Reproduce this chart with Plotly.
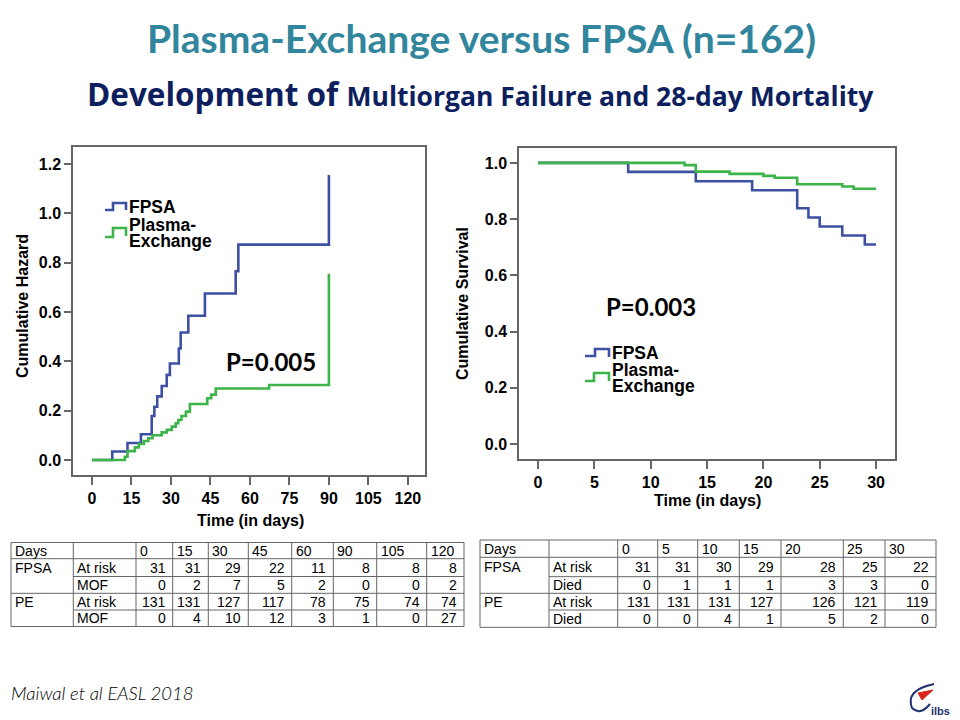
import plotly.graph_objects as go

# Cumulative hazard of multiorgan failure (left panel)
fpsa_mof_days = [0, 7.7, 13.5, 18.6, 22.7, 23.7, 24.8, 26.5, 28.4, 29.6, 33.0, 33.7, 36.6, 42.9, 54.6, 55.6, 90]
fpsa_hazard = [0, 0.034, 0.069, 0.104, 0.178, 0.216, 0.258, 0.300, 0.345, 0.391, 0.452, 0.517, 0.585, 0.675, 0.765, 0.873, 1.155]
pe_mof_days = [0, 12.5, 13.5, 16.3, 17.8, 19.7, 21.4, 23.0, 26.5, 28.4, 30.3, 31.8, 32.8, 34.0, 35.7, 37.2, 43.8, 45.3, 47.0, 67.3, 90]
pe_hazard = [0, 0.013, 0.036, 0.051, 0.065, 0.077, 0.088, 0.100, 0.112, 0.122, 0.135, 0.149, 0.162, 0.178, 0.196, 0.227, 0.250, 0.265, 0.290, 0.304, 0.755]

# 28-day survival (right panel)
fpsa_surv_days = [0, 8, 14, 19, 23, 24, 25, 27, 29, 30]
fpsa_survival = [1, 0.968, 0.935, 0.903, 0.839, 0.806, 0.774, 0.742, 0.710, 0.710]
pe_surv_days = [0, 13, 14, 17, 20, 21, 23, 27, 28, 30]
pe_survival = [1, 0.992, 0.969, 0.961, 0.954, 0.947, 0.924, 0.916, 0.908, 0.908]

# Numbers at risk tables
mof_table_days = ["0", "15", "30", "45", "60", "90", "105", "120"]
mof_fpsa_risk = [31, 31, 29, 22, 11, 8, 8, 8]
mof_fpsa_events = [0, 2, 7, 5, 2, 0, 0, 2]
mof_pe_risk = [131, 131, 127, 117, 78, 75, 74, 74]
mof_pe_events = [0, 4, 10, 12, 3, 1, 0, 27]

death_table_days = ["0", "5", "10", "15", "20", "25", "30"]
death_fpsa_risk = [31, 31, 30, 29, 28, 25, 22]
death_fpsa_events = [0, 1, 1, 1, 3, 3, 0]
death_pe_risk = [131, 131, 131, 127, 126, 121, 119]
death_pe_events = [0, 0, 4, 1, 5, 2, 0]

BLUE = "#3D50A2"
GREEN = "#3CB44A"
GRID = "#666666"
W, H = 960, 720
OFF = 8  # page body margin


def px(x):
    return (x - OFF) / W


def py(y):
    return 1 - (y - OFF) / H


fig = go.Figure()

fig.add_trace(go.Scatter(x=fpsa_mof_days, y=fpsa_hazard, mode="lines", line_shape="hv",
                         line=dict(color=BLUE, width=2.6), xaxis="x", yaxis="y"))
fig.add_trace(go.Scatter(x=pe_mof_days, y=pe_hazard, mode="lines", line_shape="hv",
                         line=dict(color=GREEN, width=2.6), xaxis="x", yaxis="y"))
fig.add_trace(go.Scatter(x=fpsa_surv_days, y=fpsa_survival, mode="lines", line_shape="hv",
                         line=dict(color=BLUE, width=2.6), xaxis="x2", yaxis="y2"))
fig.add_trace(go.Scatter(x=pe_surv_days, y=pe_survival, mode="lines", line_shape="hv",
                         line=dict(color=GREEN, width=2.6), xaxis="x2", yaxis="y2"))

tickfont = dict(family="Arial, Liberation Sans", size=16, color="black", weight="bold")
frame = dict(showline=True, mirror=True, linecolor=GRID, linewidth=1.5, ticks="outside",
             ticklen=8, tickcolor=GRID, tickwidth=1.5, showgrid=False, zeroline=False, tickfont=tickfont)

fig.update_layout(
    width=W, height=H, margin=dict(l=0, r=0, t=0, b=0),
    paper_bgcolor="white", plot_bgcolor="white", showlegend=False,
    xaxis=dict(domain=[px(73), px(425)], range=[-7.2, 126.5], tickvals=[0, 15, 30, 45, 60, 75, 90, 105, 120],
               anchor="y", **frame),
    yaxis=dict(domain=[py(475), py(147)], range=[-0.061, 1.269], tickvals=[0, 0.2, 0.4, 0.6, 0.8, 1.0, 1.2],
               tickformat=".1f", anchor="x", **frame),
    xaxis2=dict(domain=[px(519), px(895)], range=[-1.69, 31.68], tickvals=[0, 5, 10, 15, 20, 25, 30],
                anchor="y2", **frame),
    yaxis2=dict(domain=[py(459), py(148)], range=[-0.053, 1.053], tickvals=[0, 0.2, 0.4, 0.6, 0.8, 1.0],
                tickformat=".1f", anchor="x2", **frame),
)
fig.update_yaxes(ticklen=7)

annotations = []
shapes = []


def note(text, x, y, size, color="black", family="Arial, Liberation Sans", weight="bold", xanchor="center",
         angle=0, italic=False):
    annotations.append(dict(text=text, x=px(x), y=py(y), xref="paper", yref="paper", showarrow=False,
                            xanchor=xanchor, yanchor="middle", textangle=angle,
                            font=dict(family=family, size=size, color=color, weight=weight,
                                      style="italic" if italic else "normal")))


def hline(x0, x1, y, color=GRID, width=1):
    shapes.append(dict(type="line", xref="paper", yref="paper", x0=px(x0), x1=px(x1), y0=py(y), y1=py(y),
                       line=dict(color=color, width=width)))


def vline(x, y0, y1, color=GRID, width=1):
    shapes.append(dict(type="line", xref="paper", yref="paper", x0=px(x), x1=px(x), y0=py(y0), y1=py(y1),
                       line=dict(color=color, width=width)))


def at_risk_table(days, label, f_risk, f_ev, p_risk, p_ev, xs, ys):
    rows = [["FPSA", "At risk"] + f_risk, ["", label] + f_ev, ["PE", "At risk"] + p_risk, ["", label] + p_ev]
    for c, d in enumerate(["Days", ""] + days):
        note(d, xs[c] + 2, (ys[0] + ys[1]) / 2, 14, weight="normal", xanchor="left")
    for r, row in enumerate(rows, start=1):
        yc = (ys[r] + ys[r + 1]) / 2
        for c, v in enumerate(row):
            if c < 2:
                note(str(v), xs[c] + 2, yc, 14, weight="normal", xanchor="left")
            else:
                note(str(v), xs[c + 1] - 5, yc, 14, weight="normal", xanchor="right")
    for i, y in enumerate(ys):
        hline(xs[1] if i in (2, 4) else xs[0], xs[-1], y)
    for x in xs:
        vline(x, ys[0], ys[-1])


at_risk_table(mof_table_days, "MOF", mof_fpsa_risk, mof_fpsa_events, mof_pe_risk, mof_pe_events,
              [11, 73.3, 136, 172.7, 208.3, 248.3, 291.7, 333.3, 376.7, 426.7, 464],
              [542.5, 558.7, 576.5, 593.3, 610, 626.5])
at_risk_table(death_table_days, "Died", death_fpsa_risk, death_fpsa_events, death_pe_risk, death_pe_events,
              [480, 549, 617.7, 657.7, 697.7, 739.3, 781, 843.3, 885, 936],
              [540, 557.3, 576.7, 593.3, 610, 627.3])

# titles
note("Plasma-Exchange versus FPSA (n=162)", 481, 38, 39, color="#31859C", family="Lato")
note("<span style='font-size:31.5px'>Development of </span>Multiorgan Failure and 28-day Mortality",
     480, 93, 26.5, color="#0D1F5E", family="Open Sans")

# axis titles
note("Cumulative Hazard", 22, 306, 16, angle=-90)
note("Time (in days)", 250, 520, 16)
note("Cumulative Survival", 462, 304, 16, angle=-90)
note("Time (in days)", 707, 500, 16)

# p-values
note("P=0.005", 271, 361, 24, family="Lato")
note("P=0.003", 651, 306, 24, family="Lato")

# legends
note("FPSA", 127, 207, 17.5, xanchor="left")
note("Plasma-", 127, 225.5, 17.5, xanchor="left")
note("Exchange", 127, 241, 17.5, xanchor="left")
note("FPSA", 610, 353, 17.5, xanchor="left")
note("Plasma-", 610, 369.5, 17.5, xanchor="left")
note("Exchange", 610, 386, 17.5, xanchor="left")

# footer
note("Maiwal et al EASL 2018", 9, 693, 18.5, family="Lato", weight=300, xanchor="left", italic=True)
note("ilbs", 940, 711, 11, color="#1F2F6E")

fig.update_layout(annotations=annotations)


def glyph(pts, color):
    path = "M " + " L ".join(f"{px(x)},{py(y)}" for x, y in pts)
    return dict(type="path", path=path, xref="paper", yref="paper", line=dict(color=color, width=2.6))


shapes += [
    glyph([(105, 210), (113, 210), (113, 203), (126, 203), (126, 210)], BLUE),
    glyph([(105, 237), (113, 237), (113, 228), (126, 228), (126, 236)], GREEN),
    glyph([(585, 356), (595, 356), (595, 349), (609, 349), (609, 357)], BLUE),
    glyph([(585, 381), (594, 381), (594, 373), (609, 373), (609, 381)], GREEN),
    # logo
    dict(type="path", xref="paper", yref="paper",
         path=f"M {px(934)},{py(684)} Q {px(905)},{py(690)} {px(912)},{py(708)} Q {px(920)},{py(716)} {px(930)},{py(704)}",
         line=dict(color="#1F2F6E", width=2)),
    dict(type="path", xref="paper", yref="paper",
         path=f"M {px(918)},{py(693)} L {px(933)},{py(690)} L {px(922)},{py(700)} Z",
         fillcolor="#D8261C", line=dict(color="#D8261C", width=1)),
]
fig.update_layout(shapes=shapes)

fig.write_html("out.html")
